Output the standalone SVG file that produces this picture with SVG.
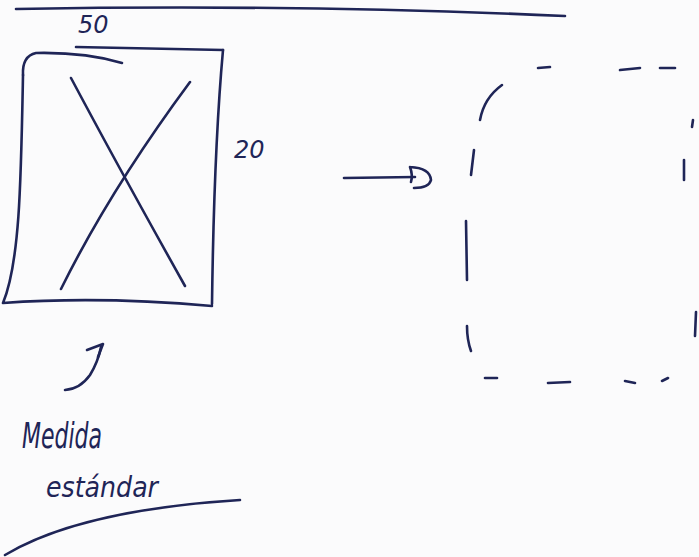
<svg xmlns="http://www.w3.org/2000/svg" width="699" height="557" viewBox="0 0 699 557">
<style>
.ink{fill:none;stroke:#1f2557;stroke-width:2.6;stroke-linecap:round;stroke-linejoin:round}
.txt{fill:#1f2557;font-family:"DejaVu Sans","Liberation Sans",sans-serif;font-style:italic}
</style>
<rect width="699" height="557" fill="#fbfbfc"/>
<g id="top-line"><path class="ink" d="M16,9 Q300,4 565,16"/></g>
<g id="box">
<path class="ink" d="M76,47 L223,50"/>
<path class="ink" d="M23,75 Q22,56 36,53 Q85,52 122,63"/>
<path class="ink" d="M23,75 C21,180 20,262 3,303 Q100,296 212,306"/>
<path class="ink" d="M223,50 Q214,150 212,304"/>
<path class="ink" d="M71,78 Q120,170 185,286"/>
<path class="ink" d="M190,82 Q110,190 61,289"/>
</g>
<g id="label-50"><text class="txt" x="78" y="33" font-size="24">50</text></g>
<g id="label-20"><text class="txt" x="234" y="158" font-size="24">20</text></g>
<g id="label-medida">
<text class="txt" x="22" y="448" font-size="36" textLength="80" lengthAdjust="spacingAndGlyphs">Medida</text>
<text class="txt" x="46" y="497" font-size="28" textLength="112" lengthAdjust="spacingAndGlyphs">estándar</text>
</g>
<g id="dashed-box">
<path class="ink" d="M538,68 L550,67"/>
<path class="ink" d="M620,70 L640,68"/>
<path class="ink" d="M660,68 L675,68"/>
<path class="ink" d="M502,85 Q484,98 480,120"/>
<path class="ink" d="M474,150 L471,175"/>
<path class="ink" d="M466,221 L467,280"/>
<path class="ink" d="M467,326 Q467,340 471,351"/>
<path class="ink" d="M485,378 L497,378"/>
<path class="ink" d="M548,383 L570,382"/>
<path class="ink" d="M625,381 L635,383"/>
<path class="ink" d="M662,381 L668,378"/>
<path class="ink" d="M693,120 L692,127"/>
<path class="ink" d="M684,160 L684,180"/>
<path class="ink" d="M696,312 L695,336"/>
</g>
<g id="connectors">
<path class="ink" d="M344,178 L415,177"/>
<path class="ink" d="M410,167 Q413,175 411,182 M410,167 Q430,168 431,180 Q429,188 414,188"/>
<path class="ink" d="M65,390 Q80,389 90,375 Q98,362 101,347"/>
<path class="ink" d="M87,350 L103,344 L98,357"/>
</g>
<g id="bottom-line"><path class="ink" d="M5,555 Q80,510 240,500"/></g>
</svg>
